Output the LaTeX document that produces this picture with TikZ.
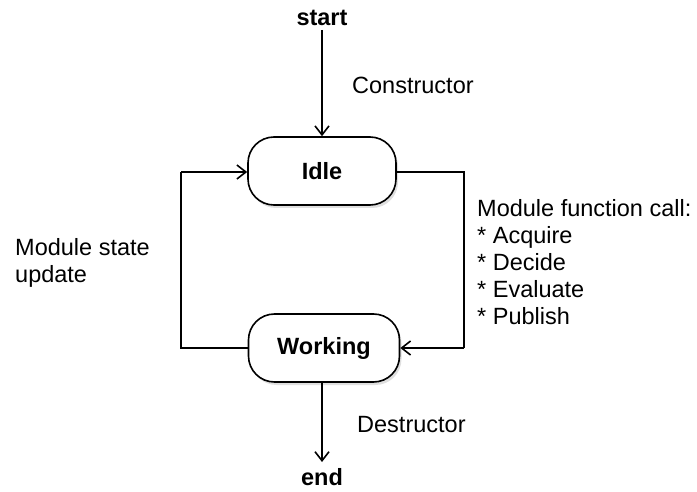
\documentclass[tikz,border=0pt]{standalone}
\usepackage{fontspec}
\setmainfont{Liberation Sans}
\usetikzlibrary{arrows.meta,shadows}
\begin{document}
\begin{tikzpicture}[x=1pt,y=-1pt,
  state/.style={draw, line width=1.6pt, rounded corners=26pt, fill=white,
    minimum height=68pt, font=\fontsize{23.5}{27}\selectfont\bfseries,
    drop shadow={shadow xshift=2pt, shadow yshift=-3pt, opacity=0.25}},
  term/.style={font=\fontsize{23.5}{27}\selectfont\bfseries, inner sep=0pt},
  lbl/.style={font=\fontsize{23.5}{27}\selectfont, inner sep=0pt, align=left},
  conn/.style={line width=1.6pt, -{Straight Barb[length=9pt,width=14pt,line width=1.6pt]}},
  plain/.style={line width=1.6pt}]
\useasboundingbox (0,0) rectangle (697,492);
\node[term] (start) at (322,18) {start};
\node[state, minimum width=148pt] (idle) at (322,171) {Idle};
\node[state, minimum width=151pt] (work) at (324,348) {Working};
\node[term] (end) at (322,477) {end};
\coordinate (tl) at (181,172);
\coordinate (bl) at (181,348);
\coordinate (tr) at (464,172);
\coordinate (br) at (464,348);
\draw[conn] (start.south |- 0,30) -- (idle.north -| start);
\draw[conn] (work.south -| end) -- (end.north |- 0,462);
\draw[plain] (work.west) -- (bl) -- (tl);
\draw[conn] (tl) -- (idle.west |- tl);
\draw[plain] (idle.east |- tr) -- (tr) -- (br);
\draw[conn] (br) -- (work.east);
\node[lbl, anchor=west] (cons) at (352,85) {Constructor};
\node[lbl, anchor=west] (dest) at (357,425) {Destructor};
\node[lbl, anchor=west] (msu) at (15,263) {Module state\\update};
\node[lbl, anchor=north west] (mfc) at (477,199) {Module function call:\\* Acquire\\* Decide\\* Evaluate\\* Publish};
\end{tikzpicture}
\end{document}
